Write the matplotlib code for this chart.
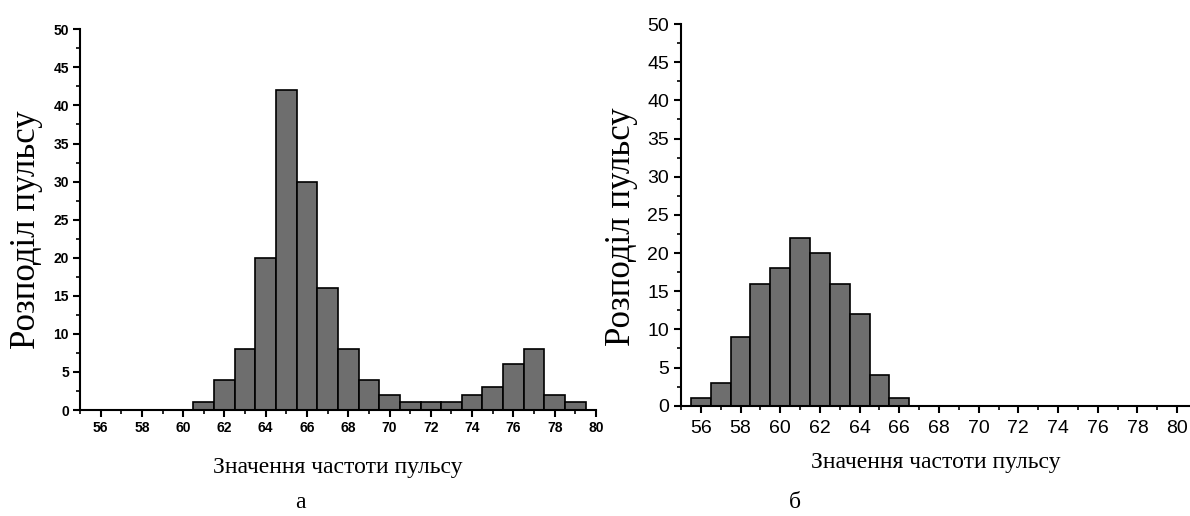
import numpy as np
import matplotlib
matplotlib.use("Agg")
from matplotlib import pyplot as plt
from matplotlib.ticker import MultipleLocator

# pulse values (bin centres) and counts for both panels
pulse_a = [61, 62, 63, 64, 65, 66, 67, 68, 69, 70, 71, 72, 73, 74, 75, 76, 77, 78, 79]
count_a = [1, 4, 8, 20, 42, 30, 16, 8, 4, 2, 1, 1, 1, 2, 3, 6, 8, 2, 1]
pulse_b = [56, 57, 58, 59, 60, 61, 62, 63, 64, 65, 66]
count_b = [1, 3, 9, 16, 18, 22, 20, 16, 12, 4, 1]

xlabel = "Значення частоти пульсу"
ylabel = "Розподіл пульсу"
panel_names = ["а", "б"]

bar_color = "#6e6e6e"

fig = plt.figure(figsize=(11.9, 5.16), dpi=100)
ax1 = fig.add_axes([0.0672, 0.2054, 0.4336, 0.7378])
ax2 = fig.add_axes([0.5723, 0.2137, 0.4277, 0.7397])

def style_axis(ax, xmax, tick_font, tick_size):
    ax.set_xlim(55, xmax)
    ax.set_ylim(0, 50)
    ax.spines["top"].set_visible(False)
    ax.spines["right"].set_visible(False)
    ax.spines["left"].set_linewidth(1.5)
    ax.spines["bottom"].set_linewidth(1.5)
    ax.xaxis.set_major_locator(MultipleLocator(2))
    ax.xaxis.set_minor_locator(MultipleLocator(1))
    ax.yaxis.set_major_locator(MultipleLocator(5))
    ax.yaxis.set_minor_locator(MultipleLocator(2.5))
    ax.set_xticks(np.arange(56, 81, 2))
    ax.tick_params(which="major", direction="out", length=5, width=1.5)
    ax.tick_params(which="minor", direction="out", length=3, width=1.2)
    for lab in ax.get_xticklabels() + ax.get_yticklabels():
        lab.set_fontfamily(tick_font[0])
        lab.set_fontweight(tick_font[1])
        lab.set_fontsize(tick_size)
    ax.set_xlabel(xlabel, family="Liberation Serif", fontsize=17, labelpad=14)

ax1.bar(pulse_a, count_a, width=1, color=bar_color, edgecolor="black", linewidth=1.2)
style_axis(ax1, 80, ("Liberation Sans", "bold"), 10)
ax1.tick_params(axis="x", pad=3)
ax1.tick_params(axis="y", pad=3)
ax1.xaxis.labelpad = 16

ax2.bar(pulse_b, count_b, width=1, color=bar_color, edgecolor="black", linewidth=1.2)
style_axis(ax2, 80.65, ("Liberation Sans", "normal"), 14)
ax2.tick_params(axis="x", pad=5)
ax2.xaxis.labelpad = 11

# y labels are larger than x labels in the reference
fig.text(0.022, 0.555, ylabel, family="Liberation Serif", fontsize=25,
         rotation=90, ha="center", va="center")
fig.text(0.522, 0.56, ylabel, family="Liberation Serif", fontsize=25,
         rotation=90, ha="center", va="center")

fig.text(0.252, 0.015, panel_names[0], family="Liberation Serif", fontsize=17, ha="center")
fig.text(0.668, 0.015, panel_names[1], family="Liberation Serif", fontsize=17, ha="center")

fig.savefig("out.png", dpi=100)
